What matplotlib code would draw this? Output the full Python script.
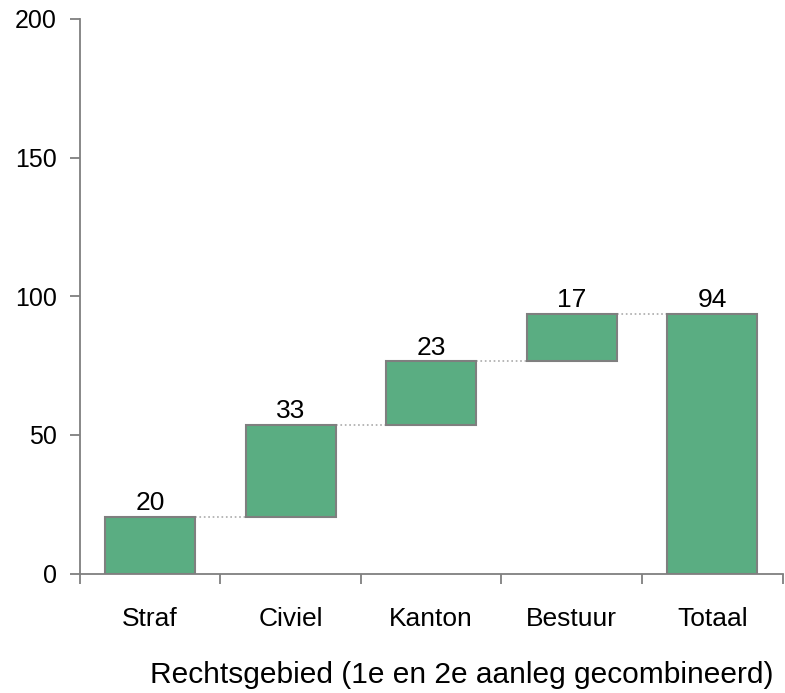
import matplotlib.pyplot as plt
import numpy as np

plt.rcParams['font.family'] = ['Liberation Sans', 'DejaVu Sans']

categorieen = ['Straf', 'Civiel', 'Kanton', 'Bestuur', 'Totaal']
stappen = [20.3, 33.4, 22.8, 17.1]
totaal = sum(stappen)

hoogtes = np.array(stappen + [totaal])
cum = np.cumsum(stappen)
bodems = np.concatenate([[0], cum[:-1], [0]])
labels = [f'{v:.0f}' for v in hoogtes]

grijs = '#7f7f7f'

fig = plt.figure(figsize=(7.85, 6.93), dpi=100)
ax = fig.add_axes([0.1015, 0.1722, 0.8955, 0.8006])

x = np.arange(len(categorieen))
breedte = 0.64
ax.bar(x, hoogtes, breedte, bottom=bodems, color='#5aad82',
       edgecolor=grijs, linewidth=1.5, zorder=3)

# stippellijntjes tussen de balken
for i in range(len(cum)):
    ax.plot([x[i] + breedte / 2, x[i + 1] - breedte / 2], [cum[i], cum[i]],
            ls=':', color='#aaaaaa', lw=1.2, zorder=2)

for xi, b, h, lab in zip(x, bodems, hoogtes, labels):
    ax.annotate(lab, (xi, b + h), xytext=(0, 5), textcoords='offset points',
                ha='center', va='baseline', fontsize=19)

ax.set_xlim(-0.5, 4.5)
ax.set_ylim(0, 200)
ax.set_yticks([0, 50, 100, 150, 200])
ax.set_xticks(np.arange(-0.5, 5, 1))
ax.set_xticklabels([])
ax.set_xticks(x, minor=True)
ax.set_xticklabels(categorieen, minor=True)
ax.tick_params(axis='x', which='minor', length=0, pad=24, labelsize=19)
ax.tick_params(axis='x', which='major', length=7, width=1.3, color=grijs)
ax.tick_params(axis='y', length=7, width=1.3, color=grijs, labelsize=18, pad=9.5)

for s in ['top', 'right']:
    ax.spines[s].set_visible(False)
for s in ['left', 'bottom']:
    ax.spines[s].set_color(grijs)
    ax.spines[s].set_linewidth(1.3)

ax.set_xlabel('Rechtsgebied (1e en 2e aanleg gecombineerd)', fontsize=21.5)
ax.xaxis.set_label_coords(0.543, -0.197)
ax.xaxis.label.set_va('baseline')

fig.savefig('out.png', dpi=100)
